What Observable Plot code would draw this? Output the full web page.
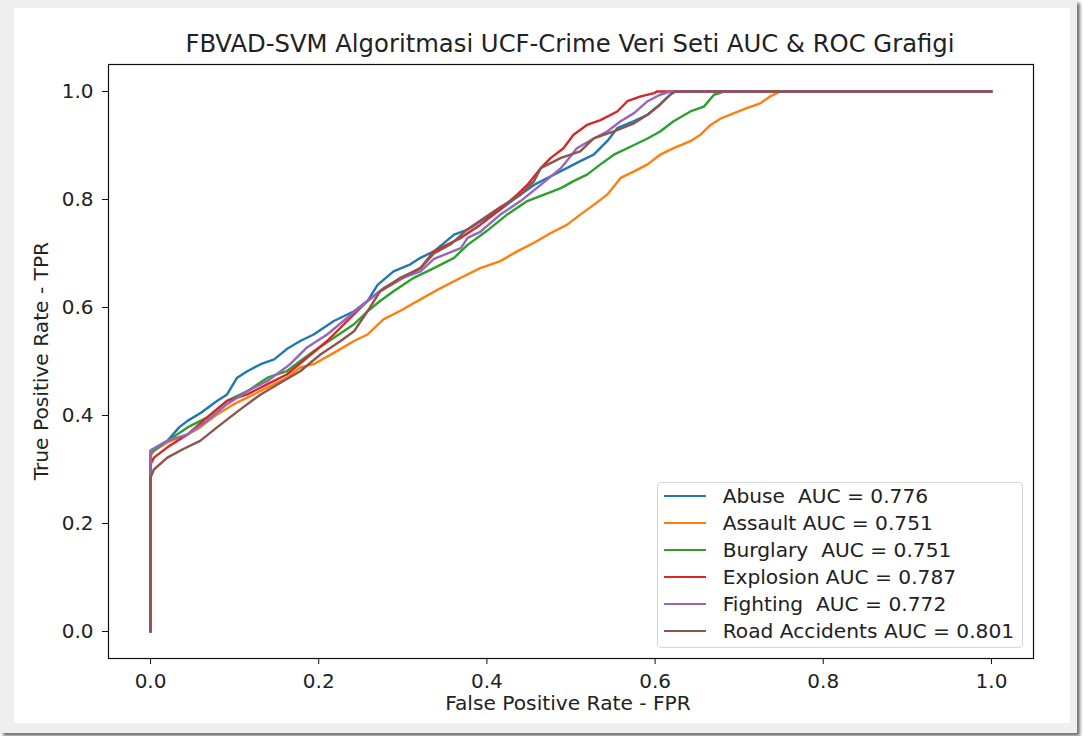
<!DOCTYPE html>
<html>
<head>
<meta charset="utf-8">
<script src="https://cdn.jsdelivr.net/npm/d3@7"></script>
<script src="https://cdn.jsdelivr.net/npm/@observablehq/plot@0.6"></script>
<style>
  html, body { margin: 0; padding: 0; background: #ffffff; width: 1083px; height: 736px; overflow: hidden; }
  #outer { position: absolute; left: 0; top: 0; width: 1077px; height: 733px; background: #efefef; box-shadow: 3px 3px 3px rgba(0,0,0,0.55); }
  #panel { position: absolute; left: 14px; top: 8px; width: 1056px; height: 715px; background: #ffffff; }
  #chart { position: absolute; left: 0; top: 0; }
  .txt { position: absolute; font-family: "DejaVu Sans", sans-serif; color: #222; line-height: 1; white-space: pre; }
  #legend { position: absolute; left: 657px; top: 482px; width: 364px; height: 164px; border: 1px solid #d5d5d5; border-radius: 4px; background: rgba(255,255,255,0.85); }
  .lgline { position: absolute; height: 2.4px; width: 42px; }
</style>
</head>
<body>
<div id="outer"></div>
<div id="panel"></div>
<div id="chart"></div>
<script>
// ---- data ----
const seriesNames = ["Abuse", "Assault", "Burglary", "Explosion", "Fighting", "Road Accidents"];
const legendLabels = ["Abuse  AUC = 0.776", "Assault AUC = 0.751", "Burglary  AUC = 0.751", "Explosion AUC = 0.787", "Fighting  AUC = 0.772", "Road Accidents AUC = 0.801"];
const seriesColors = ["#1f77b4", "#ff7f0e", "#2ca02c", "#d62728", "#9467bd", "#8c564b"];
const xTicks = [0, 0.2, 0.4, 0.6, 0.8, 1.0];
const yTicks = [0, 0.2, 0.4, 0.6, 0.8, 1.0];

const abuse = [[0,0],[0,0.335],[0.020,0.353],[0.034,0.378],[0.044,0.390],[0.060,0.405],[0.079,0.427],[0.091,0.439],[0.103,0.470],[0.115,0.482],[0.131,0.495],[0.147,0.504],[0.162,0.523],[0.178,0.538],[0.194,0.550],[0.218,0.575],[0.242,0.593],[0.258,0.612],[0.270,0.642],[0.289,0.667],[0.309,0.680],[0.321,0.692],[0.337,0.704],[0.361,0.735],[0.377,0.744],[0.400,0.767],[0.416,0.782],[0.440,0.809],[0.456,0.827],[0.476,0.843],[0.495,0.858],[0.511,0.871],[0.527,0.883],[0.543,0.908],[0.555,0.932],[0.575,0.945],[0.591,0.957],[0.606,0.976],[0.614,0.988],[0.622,1.0],[1,1]];
const assault = [[0,0],[0,0.325],[0.004,0.335],[0.020,0.350],[0.044,0.365],[0.059,0.378],[0.079,0.402],[0.099,0.421],[0.115,0.433],[0.139,0.452],[0.162,0.470],[0.178,0.489],[0.194,0.495],[0.218,0.516],[0.242,0.538],[0.258,0.550],[0.277,0.578],[0.297,0.594],[0.321,0.615],[0.345,0.636],[0.369,0.655],[0.392,0.673],[0.416,0.686],[0.436,0.704],[0.456,0.720],[0.476,0.738],[0.495,0.753],[0.511,0.772],[0.527,0.790],[0.543,0.809],[0.559,0.840],[0.575,0.852],[0.591,0.865],[0.606,0.883],[0.622,0.895],[0.642,0.908],[0.654,0.920],[0.666,0.938],[0.678,0.950],[0.694,0.960],[0.709,0.969],[0.725,0.978],[0.737,0.991],[0.749,1.0],[1,1]];
const burglary = [[0,0],[0,0.330],[0.020,0.353],[0.044,0.378],[0.067,0.396],[0.091,0.427],[0.115,0.445],[0.139,0.470],[0.162,0.482],[0.178,0.501],[0.194,0.519],[0.218,0.544],[0.242,0.569],[0.258,0.593],[0.273,0.612],[0.289,0.630],[0.313,0.655],[0.337,0.673],[0.361,0.692],[0.377,0.716],[0.400,0.742],[0.424,0.772],[0.448,0.797],[0.468,0.809],[0.488,0.821],[0.503,0.834],[0.519,0.846],[0.535,0.865],[0.551,0.883],[0.575,0.901],[0.591,0.913],[0.606,0.926],[0.622,0.945],[0.642,0.963],[0.658,0.972],[0.670,0.994],[0.682,1.0],[1,1]];
const explosion = [[0,0],[0,0.310],[0.004,0.322],[0.020,0.341],[0.044,0.365],[0.067,0.396],[0.091,0.427],[0.115,0.439],[0.139,0.458],[0.162,0.476],[0.186,0.507],[0.210,0.538],[0.234,0.575],[0.258,0.612],[0.273,0.630],[0.297,0.652],[0.321,0.673],[0.337,0.704],[0.369,0.729],[0.392,0.753],[0.416,0.782],[0.436,0.809],[0.448,0.827],[0.464,0.858],[0.476,0.877],[0.491,0.895],[0.503,0.920],[0.519,0.938],[0.535,0.947],[0.555,0.963],[0.567,0.982],[0.583,0.991],[0.599,0.997],[0.602,1.0],[1,1]];
const fighting = [[0,0],[0,0.335],[0.020,0.353],[0.044,0.365],[0.067,0.390],[0.091,0.421],[0.115,0.445],[0.139,0.464],[0.166,0.495],[0.186,0.526],[0.210,0.550],[0.234,0.581],[0.258,0.612],[0.277,0.636],[0.297,0.653],[0.321,0.667],[0.337,0.690],[0.369,0.710],[0.377,0.729],[0.392,0.740],[0.416,0.772],[0.440,0.797],[0.464,0.827],[0.488,0.858],[0.507,0.895],[0.527,0.913],[0.543,0.926],[0.559,0.945],[0.575,0.960],[0.591,0.982],[0.606,0.994],[0.618,1.0],[1,1]];
const roadAccidents = [[0,0],[0,0.285],[0.004,0.300],[0.020,0.322],[0.039,0.338],[0.059,0.353],[0.079,0.378],[0.099,0.402],[0.115,0.421],[0.131,0.439],[0.155,0.461],[0.178,0.482],[0.202,0.513],[0.226,0.538],[0.242,0.556],[0.258,0.593],[0.273,0.630],[0.297,0.655],[0.321,0.673],[0.337,0.700],[0.357,0.717],[0.377,0.745],[0.416,0.786],[0.440,0.809],[0.456,0.834],[0.464,0.858],[0.488,0.877],[0.511,0.889],[0.527,0.913],[0.551,0.926],[0.575,0.941],[0.591,0.957],[0.606,0.976],[0.618,0.994],[0.624,1.0],[1,1]];

const allSeries = [abuse, assault, burglary, explosion, fighting, roadAccidents];
const rows = allSeries.flatMap((s, i) => s.map(([fpr, tpr]) => ({series: seriesNames[i], fpr, tpr})));

const FONT = "DejaVu Sans";
const plot = Plot.plot({
  width: 1083,
  height: 736,
  marginTop: 64,
  marginBottom: 78,
  marginLeft: 108,
  marginRight: 50,
  style: {fontFamily: FONT, fontSize: "20px", background: "transparent", color: "#222"},
  x: {domain: [-0.05, 1.05], ticks: xTicks, tickFormat: d3.format(".1f"), tickSize: 6, tickPadding: 9, label: null},
  y: {domain: [-0.05, 1.05], ticks: yTicks, tickFormat: d3.format(".1f"), tickSize: 6, tickPadding: 9, label: null},
  color: {domain: seriesNames, range: seriesColors},
  marks: [
    Plot.line(rows, {x: "fpr", y: "tpr", z: "series", stroke: "series", strokeWidth: 2.4, strokeLinejoin: "miter"}),
    Plot.frame({stroke: "#111", strokeWidth: 1.2})
  ]
});
document.getElementById("chart").appendChild(plot);
d3.select(plot).selectAll("[aria-label$='axis'] path, [aria-label$='tick'] path").attr("stroke", "#111");

function addText(str, css) {
  const d = document.createElement("div");
  d.className = "txt";
  d.textContent = str;
  Object.assign(d.style, css);
  document.body.appendChild(d);
  return d;
}
// title
addText("FBVAD-SVM Algoritmasi UCF-Crime Veri Seti AUC & ROC Grafigi", {fontSize: "24.3px", top: "31.5px", left: "570px", transform: "translateX(-50%)"});
// x label
addText("False Positive Rate - FPR", {fontSize: "20.2px", top: "693px", left: "568px", transform: "translateX(-50%)"});
// y label
addText("True Positive Rate - TPR", {fontSize: "20.2px", top: "351px", left: "41px", transform: "translate(-50%,0) rotate(-90deg)", transformOrigin: "50% 50%"});

// legend
const lg = document.createElement("div");
lg.id = "legend";
document.body.appendChild(lg);
legendLabels.forEach((lab, i) => {
  const cy = 495.7 + 27 * i;
  const ln = document.createElement("div");
  ln.className = "lgline";
  Object.assign(ln.style, {left: "664px", top: (cy - 1.2) + "px", background: seriesColors[i], position: "absolute"});
  document.body.appendChild(ln);
  addText(lab, {fontSize: "20.2px", left: "722.7px", top: (cy - 10.1) + "px"});
});
</script>
</body>
</html>
